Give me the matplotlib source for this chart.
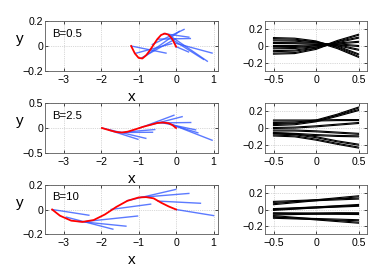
import matplotlib
matplotlib.use("Agg")
import matplotlib.pyplot as plt
import numpy as np

plt.rcParams['font.family'] = ['Liberation Sans', 'DejaVu Sans']

# ---------------- data ----------------
labels = ["B=0.5", "B=2.5", "B=10"]
left_ylims = [0.2, 0.5, 0.2]
left_yticks = [[-0.2, 0, 0.2], [-0.5, 0, 0.5], [-0.2, 0, 0.2]]
left_xticks = [-3, -2, -1, 0, 1]
right_xticks = [-0.5, 0, 0.5]
right_yticks = [-0.2, 0, 0.2]

# red filament shapes
red1_x = [-1.2, -1.1, -1.0, -0.9, -0.8, -0.7, -0.6, -0.5, -0.4, -0.3, -0.2, -0.1, -0.05, 0.0]
red1_y = [0.0, -0.06, -0.095, -0.1, -0.075, -0.035, 0.01, 0.055, 0.088, 0.1, 0.09, 0.055, 0.025, -0.005]
red2_x = [-1.98, -1.8, -1.6, -1.45, -1.3, -1.1, -0.9, -0.7, -0.5, -0.35, -0.2, -0.1, 0.0]
red2_y = [0.0, -0.04, -0.08, -0.09, -0.075, -0.03, 0.02, 0.06, 0.1, 0.11, 0.095, 0.06, 0.0]
red3_x = [-3.31, -3.1, -2.8, -2.5, -2.2, -1.9, -1.6, -1.3, -1.0, -0.8, -0.6, -0.4, -0.2, 0.0]
red3_y = [0.0, -0.05, -0.09, -0.1, -0.085, -0.04, 0.02, 0.07, 0.097, 0.1, 0.09, 0.055, 0.025, 0.0]

# blue segments: start x, start y, end x, end y
blue1_x0 = [-1.2, -1.1, -0.95, -0.8, -0.65, -0.5, -0.35, -0.2, -0.12, -0.05, 0.0]
blue1_y0 = [0.0, -0.06, -0.1, -0.075, 0.01, 0.055, 0.1, 0.09, 0.055, 0.025, -0.005]
blue1_x1 = [-0.25, -0.1, 0.0, 0.1, 0.23, 0.4, 0.36, 0.85, 0.75, 0.98, 0.35]
blue1_y1 = [-0.058, 0.02, 0.06, 0.12, 0.135, 0.06, 0.07, -0.125, -0.11, -0.058, -0.05]

blue2_x0 = [-1.98, -1.8, -1.5, -1.35, -1.0, -0.75, -0.55, -0.4, -0.2, -0.1]
blue2_y0 = [0.0, -0.04, -0.09, -0.08, -0.01, 0.05, 0.1, 0.11, 0.095, 0.06]
blue2_x1 = [-0.79, -1.0, -0.61, -0.55, -0.04, 0.18, 0.41, 0.54, 0.98, 0.6]
blue2_y1 = [-0.21, -0.23, -0.085, -0.03, 0.26, 0.23, 0.11, -0.04, -0.25, -0.1]

blue3_x0 = [-3.31, -2.95, -2.64, -2.42, -1.75, -1.32, -0.95, -0.5, 0.0]
blue3_y0 = [0.0, -0.06, -0.095, -0.097, 0.0, 0.07, 0.098, 0.068, 0.0]
blue3_x1 = [-2.31, -1.67, -1.32, -1.01, -0.66, 0.01, 0.36, 0.67, 1.02]
blue3_y1 = [-0.047, -0.16, -0.135, -0.052, 0.044, 0.163, 0.13, 0.05, -0.05]

# right panels: black filaments sampled at rx
rx = [-0.5, -0.25, 0.0, 0.25, 0.5]
right1 = [
    [0.095, 0.088, 0.055, -0.025, -0.13],
    [0.068, 0.064, 0.045, -0.005, -0.1],
    [0.036, 0.034, 0.03, 0.01, -0.045],
    [0.0, 0.0, 0.012, 0.02, 0.0],
    [-0.028, -0.024, -0.005, 0.03, 0.05],
    [-0.062, -0.055, -0.02, 0.045, 0.1],
    [-0.092, -0.085, -0.035, 0.06, 0.135],
]
right2 = [
    [0.09, 0.09, 0.09, 0.095, 0.095],
    [0.06, 0.065, 0.09, 0.16, 0.245],
    [0.035, 0.045, 0.08, 0.145, 0.215],
    [0.0, 0.005, 0.02, 0.04, 0.06],
    [-0.03, -0.03, -0.04, -0.055, -0.07],
    [-0.06, -0.07, -0.085, -0.095, -0.1],
    [-0.065, -0.075, -0.11, -0.16, -0.2],
    [-0.09, -0.1, -0.14, -0.19, -0.235],
]
right3 = [
    [0.092, 0.102, 0.112, 0.122, 0.132],
    [0.064, 0.088, 0.112, 0.136, 0.16],
    [0.005, 0.015, 0.025, 0.035, 0.045],
    [-0.005, 0.01, 0.025, 0.04, 0.055],
    [-0.045, -0.047, -0.05, -0.052, -0.055],
    [-0.06, -0.055, -0.05, -0.045, -0.045],
    [-0.08, -0.1, -0.12, -0.14, -0.16],
    [-0.1, -0.108, -0.115, -0.122, -0.13],
]

reds = [(red1_x, red1_y), (red2_x, red2_y), (red3_x, red3_y)]
blues = [(blue1_x0, blue1_y0, blue1_x1, blue1_y1),
         (blue2_x0, blue2_y0, blue2_x1, blue2_y1),
         (blue3_x0, blue3_y0, blue3_x1, blue3_y1)]
rights = [right1, right2, right3]

# ---------------- figure ----------------
W, H = 374, 273
fig = plt.figure(figsize=(W / 100, H / 100), dpi=100)
fig.patch.set_facecolor('white')

rows_px = [(21, 71), (103, 153), (184.7, 234.3)]
fs_tick = 7.6
blue_c = (0.2, 0.35, 1.0)


def style(ax):
    ax.tick_params(direction='in', length=2, width=0.5, labelsize=fs_tick, pad=1.5,
                   top=True, right=True, colors='0.0')
    for s in ax.spines.values():
        s.set_linewidth(0.6)
        s.set_color('0.35')
    ax.grid(True, linestyle=':', linewidth=0.5, color='0.7')
    ax.set_axisbelow(True)


def fmt(v):
    s = ('%g' % v)
    return s.replace('-', '\u2212')


for i in range(3):
    top, bot = rows_px[i]
    h = (bot - top) / H
    b = (H - bot) / H
    axl = fig.add_axes([45 / W, b, 173 / W, h])
    style(axl)
    axl.set_xlim(-3.5, 1.12)
    yl = left_ylims[i]
    axl.set_ylim(-yl, yl)
    axl.set_xticks(left_xticks)
    axl.set_xticklabels([fmt(v) for v in left_xticks])
    axl.set_yticks(left_yticks[i])
    axl.set_yticklabels([fmt(v) for v in left_yticks[i]])
    axl.tick_params(axis='x', pad=3)
    x0, y0, x1, y1 = blues[i]
    for a, bb, c, d in zip(x0, y0, x1, y1):
        axl.plot([a, c], [bb, d], color=blue_c, lw=1.0, alpha=0.8, solid_capstyle='butt')
    rxv, ryv = reds[i]
    axl.plot(rxv, ryv, color='red', lw=1.3)
    axl.text(0.04, 0.745, labels[i], transform=axl.transAxes, fontsize=8.2,
             ha='left', va='center')
    axl.set_xlabel('x', fontsize=11, labelpad=0)
    axl.xaxis.set_label_coords(0.503, -0.38)
    axl.set_ylabel('y', fontsize=11, rotation=0, va='center', ha='center')
    axl.yaxis.set_label_coords(-0.145, 0.63)

    axr = fig.add_axes([265 / W, b, 102 / W, h])
    style(axr)
    axr.set_xlim(-0.6, 0.6)
    axr.set_ylim(-0.3, 0.3)
    axr.set_xticks(right_xticks)
    axr.set_xticklabels([fmt(v) for v in right_xticks])
    axr.set_yticks(right_yticks)
    axr.set_yticklabels([fmt(v) for v in right_yticks])
    axr.tick_params(axis='x', pad=3)
    for line in rights[i]:
        yv = np.array(line)
        axr.plot(rx, yv + 0.006, color='black', lw=0.8)
        axr.plot(rx, yv - 0.006, color='black', lw=0.8)

fig.savefig('out.png', dpi=100, facecolor='white')
